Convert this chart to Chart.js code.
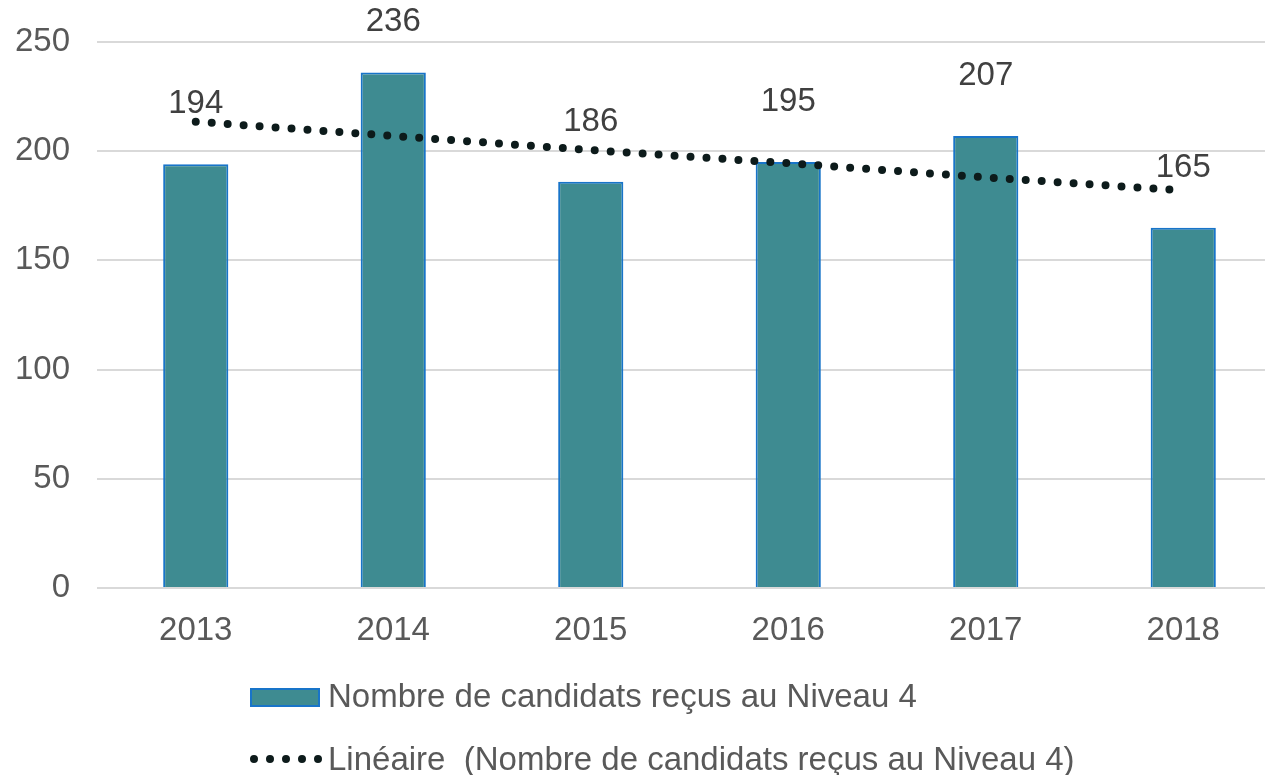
<!DOCTYPE html>
<html>
<head>
<meta charset="utf-8">
<script src="https://cdn.jsdelivr.net/npm/chart.js@4/dist/chart.umd.min.js"></script>
<style>
  html, body { margin: 0; padding: 0; background: #fff; overflow: hidden; }
  #wrap { width: 1285px; height: 775px; }
</style>
</head>
<body>
<div id="wrap"><canvas id="chart" width="1285" height="775"></canvas></div>
<script>
// data
const years = ['2013', '2014', '2015', '2016', '2017', '2018'];
const candidats = [194, 236, 186, 195, 207, 165];
const tendance = [213.5, 207, 200.5, 194.5, 188, 182];
const yTicks = [0, 50, 100, 150, 200, 250];

const barLabel = 'Nombre de candidats reçus au Niveau 4';
const trendLabel = 'Linéaire  (Nombre de candidats reçus au Niveau 4)';

const FONT = '"Liberation Sans", Arial, sans-serif';
const TEXT = '#595959';

// value labels above bars (kept inside the canvas at the top)
const valueLabels = {
    id: 'valueLabels',
    afterDatasetsDraw(chart) {
        const ctx = chart.ctx;
        const meta = chart.getDatasetMeta(0);
        ctx.save();
        ctx.font = '33px ' + FONT;
        ctx.fillStyle = '#404040';
        ctx.textAlign = 'center';
        ctx.textBaseline = 'middle';
        meta.data.forEach((bar, i) => {
            ctx.fillText(candidats[i], bar.x, Math.max(bar.y - 60, 22));
        });
        ctx.restore();
    }
};

// legend drawn by hand so both rows line up on the left
const legendRows = {
    id: 'legendRows',
    afterDraw(chart) {
        const ctx = chart.ctx;
        const bar = chart.data.datasets[0];
        const line = chart.data.datasets[1];
        ctx.save();
        ctx.font = '33px ' + FONT;
        ctx.textBaseline = 'middle';

        // row 1: bar swatch
        ctx.fillStyle = bar.backgroundColor;
        ctx.fillRect(251, 689, 68, 17);
        ctx.strokeStyle = bar.borderColor;
        ctx.lineWidth = 2;
        ctx.strokeRect(251, 689, 68, 17);
        ctx.fillStyle = TEXT;
        ctx.fillText(bar.label, 328, 698);

        // row 2: dotted swatch
        ctx.strokeStyle = line.borderColor;
        ctx.lineWidth = 8;
        ctx.lineCap = 'round';
        ctx.setLineDash([0, 16]);
        ctx.beginPath();
        ctx.moveTo(254, 759);
        ctx.lineTo(320, 759);
        ctx.stroke();
        ctx.setLineDash([]);
        ctx.fillText(line.label, 328, 761);
        ctx.restore();
    }
};

new Chart(document.getElementById('chart'), {
    data: {
        labels: years,
        datasets: [
            {
                type: 'bar',
                label: barLabel,
                data: candidats,
                backgroundColor: '#3E8B91',
                borderColor: '#1874C9',
                borderWidth: 2,
                barPercentage: 0.33,
                categoryPercentage: 1,
                order: 2
            },
            {
                type: 'line',
                label: trendLabel,
                data: tendance,
                borderColor: '#0D1B1B',
                borderWidth: 8,
                borderCapStyle: 'round',
                borderDash: [0, 16],
                pointRadius: 0,
                fill: false,
                tension: 0,
                order: 1
            }
        ]
    },
    options: {
        responsive: false,
        animation: false,
        layout: { padding: { top: 42, right: 3, left: 0, bottom: 0 } },
        plugins: {
            legend: { display: false },
            tooltip: { enabled: false }
        },
        scales: {
            x: {
                grid: { display: false },
                border: { display: false },
                ticks: {
                    color: TEXT,
                    font: { family: FONT, size: 33 },
                    padding: 15
                },
                afterFit(scale) {
                    scale.height = 187;
                    scale.paddingLeft = 0;
                    scale.paddingRight = 0;
                }
            },
            y: {
                min: 0,
                max: 250,
                afterBuildTicks(scale) { scale.ticks = yTicks.map(v => ({ value: v })); },
                grid: { color: '#D9D9D9', lineWidth: 2, drawTicks: false },
                border: { display: false },
                ticks: {
                    color: TEXT,
                    font: { family: FONT, size: 33 },
                    padding: 27
                },
                afterFit(scale) {
                    scale.width = 97;
                    scale.paddingTop = 0;
                    scale.paddingBottom = 0;
                }
            }
        }
    },
    plugins: [valueLabels, legendRows]
});
</script>
</body>
</html>
